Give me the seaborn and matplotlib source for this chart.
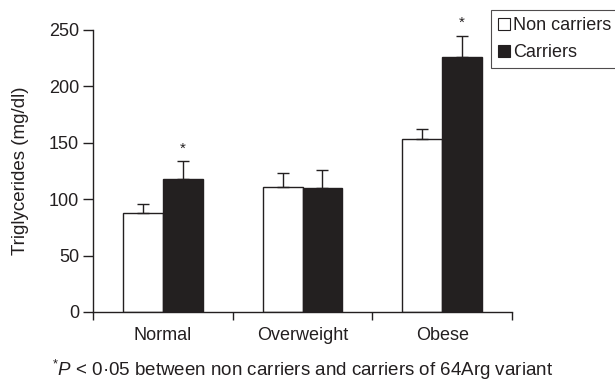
import matplotlib
matplotlib.use("Agg")
import matplotlib.pyplot as plt
import seaborn as sns
import numpy as np
import pandas as pd
from matplotlib.lines import Line2D

categories = ["Normal", "Overweight", "Obese"]
groups = ["Non carriers", "Carriers"]
non_carriers = [88, 111, 153.5]
carriers = [118, 109.5, 226.5]
err_non = [7.5, 12, 9]
err_car = [15.5, 16.5, 18.5]
significant = [True, False, True]

sns.set_theme(style="ticks")
plt.rcParams["font.family"] = ["Liberation Sans", "DejaVu Sans"]
plt.rcParams["mathtext.fontset"] = "custom"
plt.rcParams["mathtext.rm"] = "Liberation Sans"
plt.rcParams["mathtext.it"] = "Liberation Sans:italic"

df = pd.DataFrame({
    "category": categories * 2,
    "group": [groups[0]] * 3 + [groups[1]] * 3,
    "value": non_carriers + carriers,
})

fig = plt.figure(figsize=(6.15, 3.81), dpi=100)
ax = fig.add_axes([93 / 615, 1 - 312 / 381, (512 - 93) / 615, (312 - 30) / 381])

sns.barplot(data=df, x="category", y="value", hue="group", order=categories,
            hue_order=groups, palette=["white", "#231f20"], edgecolor="#231f20",
            linewidth=1.0, width=0.57, errorbar=None, ax=ax, legend=False)

errs = {groups[0]: err_non, groups[1]: err_car}
for container, g in zip(ax.containers, groups):
    xs = [p.get_x() + p.get_width() / 2 for p in container.patches]
    hs = [p.get_height() for p in container.patches]
    e = errs[g]
    ax.errorbar(xs, hs, yerr=[np.zeros(len(e)), e], fmt="none", ecolor="#231f20",
                elinewidth=1.0, capsize=4.3, capthick=1.0, zorder=1)
    if g == groups[1]:
        for x, h, ee, s in zip(xs, hs, e, significant):
            if s:
                ax.text(x, h + ee + 5, "*", ha="center", va="bottom", fontsize=11,
                        color="#231f20", clip_on=False)

ax.set_ylim(0, 250)
ax.set_xlim(-0.5, 2.5)
ax.set_yticks([0, 50, 100, 150, 200, 250])
ax.set_xticks([-0.5, 0.5, 1.5, 2.5])
ax.set_xticklabels([])
ax.set_xticks([0, 1, 2], minor=True)
ax.set_xticklabels(categories, minor=True)
ax.tick_params(axis="x", which="minor", length=0, pad=11, labelsize=13, colors="#231f20")
ax.tick_params(axis="x", which="major", length=6, width=1.0, color="#231f20", direction="out")
ax.tick_params(axis="y", length=7, width=1.0, color="#231f20", labelsize=13, pad=3,
               labelcolor="#231f20")
for sp in ["top", "right"]:
    ax.spines[sp].set_visible(False)
for sp in ["left", "bottom"]:
    ax.spines[sp].set_color("#231f20")
    ax.spines[sp].set_linewidth(1.0)
ax.set_xlabel("")
ax.set_ylabel("Triglycerides (mg/dl)", fontsize=13.5, color="#231f20", labelpad=14)

handles = [
    Line2D([], [], marker="s", linestyle="none", markersize=8, markerfacecolor="white",
           markeredgecolor="#231f20", markeredgewidth=0.8),
    Line2D([], [], marker="s", linestyle="none", markersize=8, markerfacecolor="#231f20",
           markeredgecolor="#231f20", markeredgewidth=0.8),
]
leg = fig.legend(handles, groups, loc="upper left", bbox_to_anchor=(491 / 615, 1 - 10 / 381),
                 frameon=True, fancybox=False, fontsize=13, handlelength=0.6,
                 handletextpad=0.2, borderpad=0.4, labelspacing=0.55, borderaxespad=0)
leg.get_frame().set_edgecolor("#231f20")
leg.get_frame().set_linewidth(0.8)
for t in leg.get_texts():
    t.set_color("#231f20")

fig.text(303 / 615, 1 - 370 / 381, r"$^{*}\mathit{P}$ < 0·05 between non carriers and carriers of 64Arg variant",
         ha="center", va="center", fontsize=13.5, color="#231f20")

fig.savefig("out.png", dpi=100)
